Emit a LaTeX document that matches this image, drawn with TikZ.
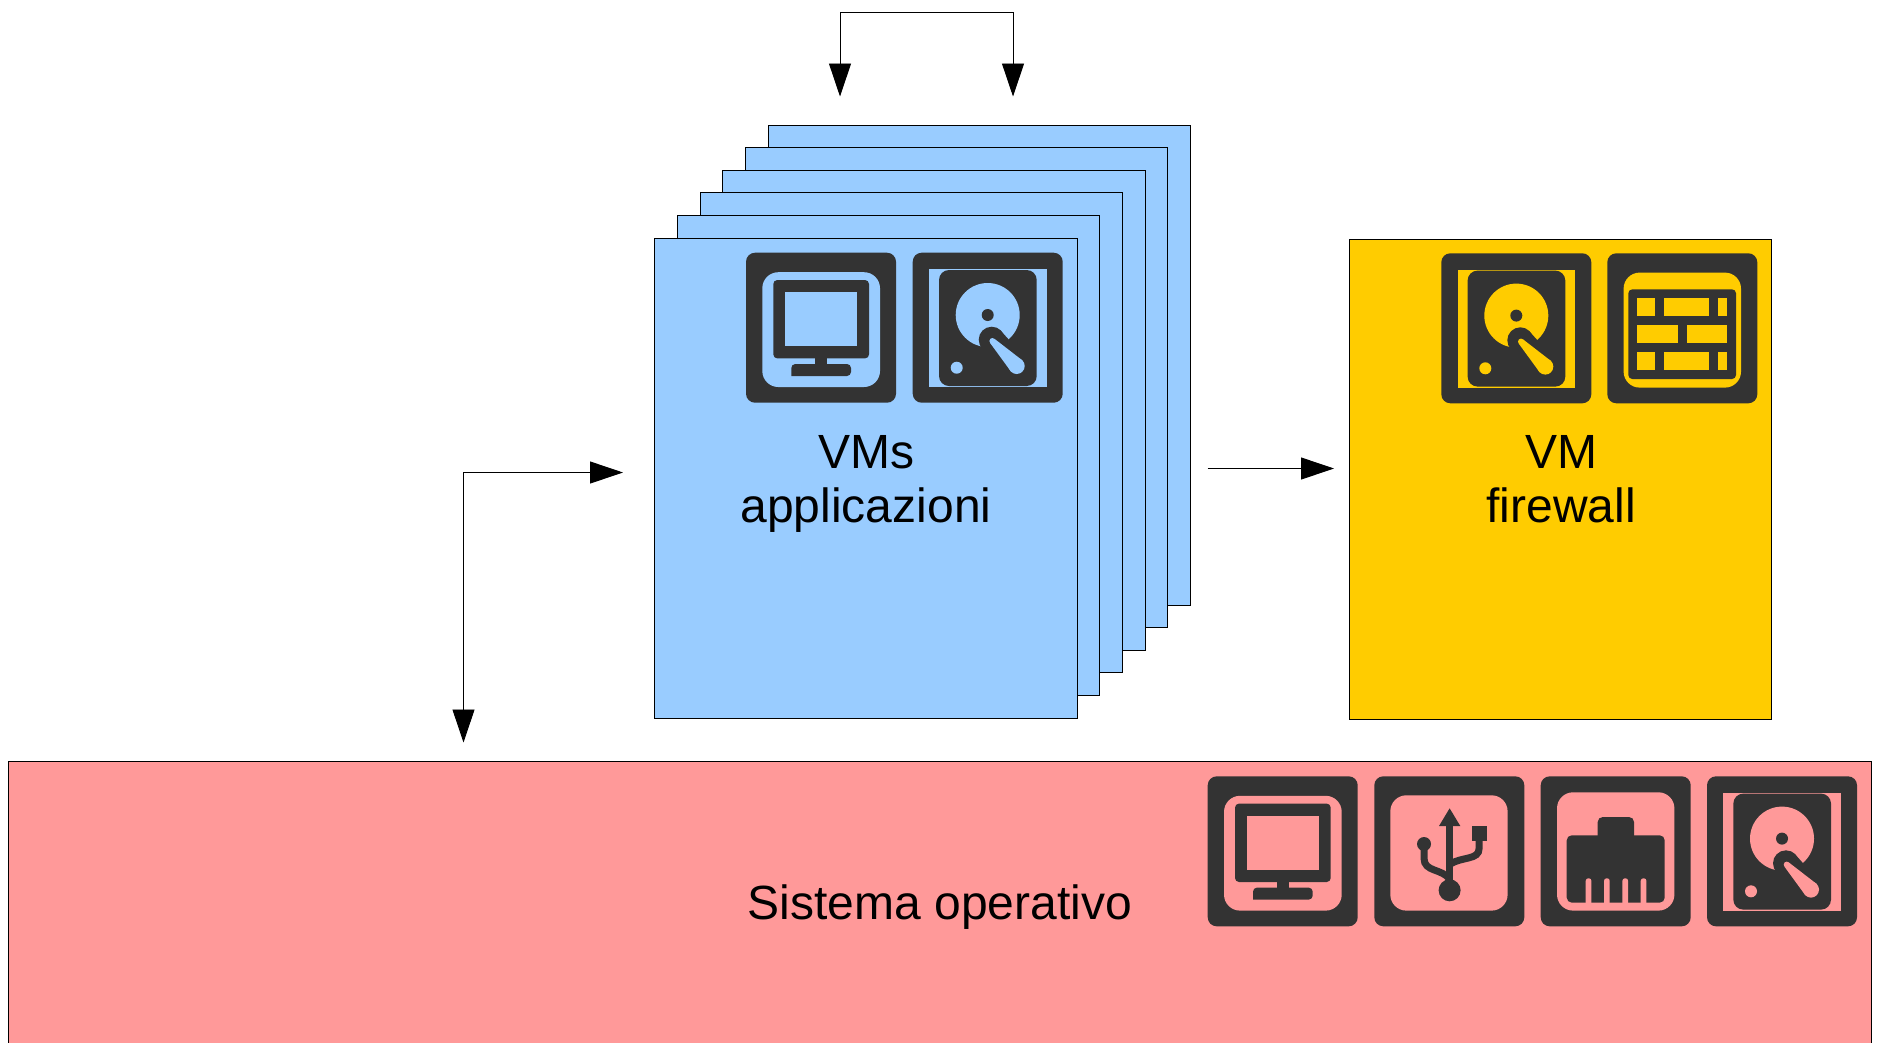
\documentclass[tikz,border=0pt]{standalone}
\usepackage{fontspec}
\setmainfont{Liberation Sans}
\usetikzlibrary{arrows.meta}
\definecolor{vmblue}{HTML}{99CCFF}
\definecolor{vmyellow}{HTML}{FFCC00}
\definecolor{ospink}{HTML}{FF9999}
\definecolor{icondark}{HTML}{333333}
\tikzset{
    pics/monitor/.style={code={
        \fill[icondark, rounded corners=9pt] (0,0) rectangle (150,150);
        \fill[#1, rounded corners=16pt] (16.3,19.5) rectangle (134,134.3);
        \fill[icondark, rounded corners=4pt] (27.3,27.3) rectangle (123,105.7);
        \fill[#1] (39,39.3) rectangle (111.3,93.3);
        \fill[icondark] (69,105) rectangle (81,112);
        \fill[icondark, rounded corners=4pt] (45.3,123.3) -- (45.3,111.3) -- (105,111.3) -- (105,123.3) [sharp corners] -- cycle;
    }},
    pics/hdd/.style={code={
        \fill[icondark, rounded corners=9pt] (0,0) rectangle (150,150);
        \fill[#1] (16.3,16.3) rectangle (134,134.3);
        \fill[icondark, rounded corners=10pt] (26.3,17.3) rectangle (124,133.3);
        \fill[#1] (75,62.3) circle (32);
        \fill[icondark] (75,62.3) circle (6);
        \fill[icondark] (79,87) circle (13);
        \fill[icondark] (88.5,78.5) -- (106,98) -- (85,100) -- cycle;
        \fill[#1] (79.7,88.3) circle (3);
        \fill[#1] (104,113.3) circle (8);
        \fill[#1] (81.9,86.2) -- (109.7,107.7) -- (98.3,118.9) -- (77.5,90.4) -- cycle;
        \fill[#1] (44,115) circle (6);
    }},
    pics/firewall/.style={code={
        \fill[icondark, rounded corners=9pt] (0,0) rectangle (150,150);
        \fill[#1, rounded corners=16pt] (16.3,19.3) rectangle (133.7,134.3);
        \fill[icondark, rounded corners=4pt] (21,36) rectangle (128.7,125.7);
        \foreach \rowtop in {45,99} {
            \fill[#1] (30,\rowtop) rectangle (48,\rowtop+18);
            \fill[#1] (56.7,\rowtop) rectangle (102,\rowtop+18);
            \fill[#1] (111,\rowtop) rectangle (119.7,\rowtop+18);
        }
        \fill[#1] (30,72) rectangle (70.3,90);
        \fill[#1] (79.3,72) rectangle (119.7,90);
    }},
    pics/usb/.style={code={
        \fill[icondark, rounded corners=9pt] (0,0) rectangle (150,150);
        \fill[#1, rounded corners=16pt] (16,19) rectangle (133.3,134.3);
        \fill[icondark] (75.3,32) -- (86,49.7) -- (64.7,49.7) -- cycle;
        \fill[icondark] (72,49) rectangle (79,110);
        \fill[icondark] (75.3,114) circle (11);
        \fill[icondark] (49.7,67.7) circle (7);
        \fill[icondark] (97.3,49.7) rectangle (112.3,64.3);
        \draw[icondark, line width=7pt] (49.7,67.7) -- (49.7,82) .. controls (49.7,96) and (68,92) .. (75.3,103);
        \draw[icondark, line width=7pt] (104.8,64) -- (104.8,72) .. controls (104.8,84) and (88,80) .. (75.3,88);
    }},
    pics/ethernet/.style={code={
        \fill[icondark, rounded corners=9pt] (0,0) rectangle (150,150);
        \fill[#1, rounded corners=16pt] (16.3,16) rectangle (133.7,134.3);
        \fill[icondark, rounded corners=5pt] (26,59) rectangle (124,126.3);
        \fill[icondark, rounded corners=5pt] (57,70) rectangle (93.3,40.7);
        \foreach \pinleft in {45,63.3,81.7,100} {
            \fill[#1, rounded corners=2.5pt] (\pinleft,127) -- (\pinleft,102) -- (\pinleft+5.7,102) -- (\pinleft+5.7,127);
        }
    }},
}
\begin{document}
\begin{tikzpicture}[
    x=1pt,
    y=-1pt,
    font=\fontsize{48}{54}\selectfont,
    vm/.style={draw, line width=0.8pt, outer sep=0pt, anchor=north west, minimum width=422.5pt, minimum height=480pt},
    label/.style={align=center, inner sep=0pt},
    e/.style={draw, line width=0.9pt, {Triangle[length=33pt, width=22pt]}-{Triangle[length=33pt, width=22pt]}},
    er/.style={draw, line width=0.9pt, -{Triangle[length=33pt, width=22pt]}},
]
    \useasboundingbox (0,0) rectangle (1878,1042);
    \clip (0,0) rectangle (1878,1042);

    \foreach \i in {5,4,3,2,1,0} {
        \node[vm, fill=vmblue] (vm\i) at (654.5+22.7*\i, 238-22.6*\i) {};
    }
    \node[vm, fill=vmyellow] (fw) at (1349, 239) {};
    \draw[fill=ospink, line width=0.8pt] (8.5, 1060) -- (8.5, 761.5) -- (1871, 761.5) -- (1871, 1060);

    \pic (vmscreen) at (746, 252.7) {monitor=vmblue};
    \pic (vmdisk) at (912.7, 252.7) {hdd=vmblue};
    \pic (fwdisk) at (1441.3, 253.3) {hdd=vmyellow};
    \pic (fwwall) at (1607.3, 253.3) {firewall=vmyellow};
    \pic (osscreen) at (1207.7, 776.3) {monitor=ospink};
    \pic (osusb) at (1374.3, 776.3) {usb=ospink};
    \pic (osnet) at (1540.7, 776.3) {ethernet=ospink};
    \pic (osdisk) at (1707, 776.3) {hdd=ospink};

    \node[label] (vmtext) at (866, 484) {VMs\\applicazioni};
    \node[label] (fwtext) at (1561, 479.5) {VM\\firewall};
    \node[label] (ostext) at (940, 907) {Sistema operativo};

    \coordinate (loopl) at (840, 96.5);
    \coordinate (loopr) at (1013, 96.5);
    \coordinate (loopcl) at (840, 12.7);
    \coordinate (loopcr) at (1013, 12.7);
    \coordinate (vmin) at (623, 472.5);
    \coordinate (osout) at (463.5, 742.5);
    \coordinate (vmout) at (1207.5, 468.5);
    \coordinate (fwin) at (1334, 468.5);

    \path[e] (loopl) -- (loopcl) -- (loopcr) -- (loopr);
    \path[e] (osout) |- (vmin);
    \path[er] (vmout) -- (fwin);
\end{tikzpicture}
\end{document}
